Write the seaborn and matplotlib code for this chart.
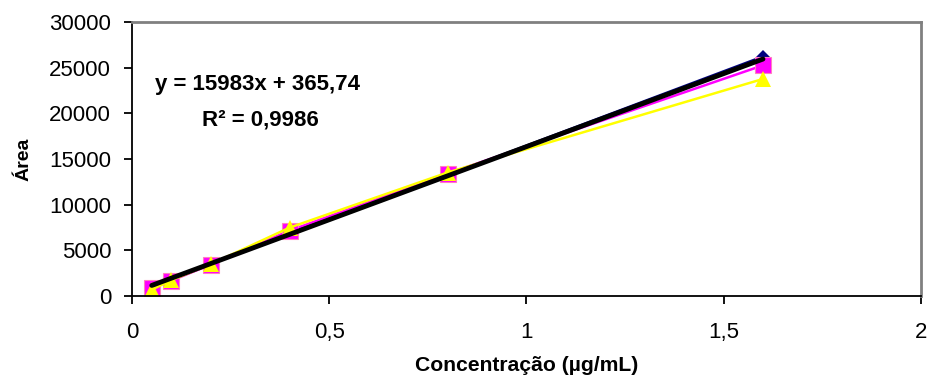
import numpy as np
import seaborn as sns
import matplotlib.pyplot as plt

# Calibration data.
conc = [0.05, 0.1, 0.2, 0.4, 0.8, 1.6]
area_navy = [1000, 1800, 3500, 7000, 13200, 26200]
area_magenta = [900, 1700, 3450, 7170, 13400, 25250]
area_yellow = [700, 1750, 3500, 7500, 13520, 23760]

slope = 15983
intercept = 365.74
r2_text = "0,9986"

x_ticks = [0, 0.5, 1, 1.5, 2]
x_tick_labels = ["0", "0,5", "1", "1,5", "2"]
y_ticks = [0, 5000, 10000, 15000, 20000, 25000, 30000]

sns.set_style('white')
plt.rcParams['font.family'] = ['Liberation Sans', 'DejaVu Sans']
plt.rcParams['text.color'] = 'black'
plt.rcParams['axes.labelcolor'] = 'black'

fig = plt.figure(figsize=(9.3, 3.85), dpi=100)
ax = fig.add_axes([0.142, 0.231, 0.848, 0.712])

sns.lineplot(x=conc, y=area_navy, color='#000080', marker='D', markersize=7,
             markeredgewidth=0, linewidth=2, ax=ax)
sns.lineplot(x=conc, y=area_magenta, color='#FF00FF', marker='s', markersize=11,
             markeredgecolor='#FF80C0', markeredgewidth=0.8, linewidth=1.8, ax=ax)
sns.lineplot(x=conc, y=area_yellow, color='#FFFF00', marker='^', markersize=11,
             markeredgewidth=0, linewidth=1.8, ax=ax)

# Linear trendline
trend_x = np.array([conc[0], conc[-1]])
sns.lineplot(x=trend_x, y=slope * trend_x + intercept, color='black',
             linewidth=3.5, ax=ax)

ax.set_xlim(0, 2)
ax.set_ylim(0, 30000)
ax.set_xticks(x_ticks)
ax.set_xticklabels(x_tick_labels)
ax.set_yticks(y_ticks)
ax.tick_params(axis='both', direction='out', length=6, width=1.3, labelsize=16,
               colors='black', labelcolor='black', bottom=True, left=True)
ax.tick_params(axis='x', pad=13)
ax.tick_params(axis='y', pad=9)

for side in ['left', 'bottom']:
    ax.spines[side].set_color('black')
    ax.spines[side].set_linewidth(1.3)
for side in ['top', 'right']:
    ax.spines[side].set_color('#808080')
    ax.spines[side].set_linewidth(2)

ax.set_xlabel('Concentração (µg/mL)', fontsize=15.2, fontweight='bold',
              labelpad=9, color='black')
ax.set_ylabel('Área', fontsize=14, fontweight='bold', labelpad=12, color='black')

ax.text(0.029, 0.752, 'y = 15983x + 365,74', transform=ax.transAxes,
        fontsize=16, fontweight='bold', va='baseline', ha='left', color='black')
ax.text(0.0887, 0.624, 'R² = ' + r2_text, transform=ax.transAxes,
        fontsize=16, fontweight='bold', va='baseline', ha='left', color='black')

fig.savefig('out.png', dpi=100)
